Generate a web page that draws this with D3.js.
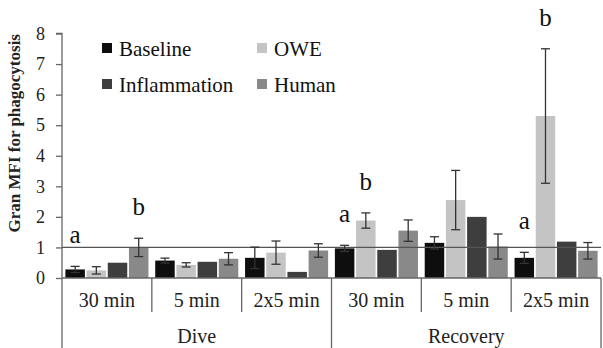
<!DOCTYPE html>
<html>
<head>
<meta charset="utf-8">
<script src="https://cdn.jsdelivr.net/npm/d3@7"></script>
<style>
  body { margin: 0; background: #fff; }
  svg text { font-family: "Liberation Serif", serif; }
</style>
</head>
<body>
<svg width="603" height="348"></svg>
<script>
// data
const groups = ["Dive", "Recovery"];
const times = ["30 min", "5 min", "2x5 min"];
const series = ["Baseline", "OWE", "Inflammation", "Human"];
const colors = ["#0e0e0e", "#c4c4c4", "#3e3e3e", "#898989"];

const baseline = [0.28, 0.57, 0.66, 0.97, 1.15, 0.66];
const owe = [0.25, 0.43, 0.83, 1.88, 2.55, 5.3];
const inflammation = [0.5, 0.53, 0.2, 0.92, 2.0, 1.19];
const human = [1.0, 0.63, 0.9, 1.55, 1.03, 0.89];

const baselineErr = [0.1, 0.08, 0.35, 0.1, 0.2, 0.18];
const oweErr = [0.12, 0.07, 0.38, 0.25, 0.97, 2.2];
const inflammationErr = [0, 0, 0, 0, 0, 0];
const humanErr = [0.3, 0.2, 0.22, 0.35, 0.41, 0.27];

const yTicks = [0, 1, 2, 3, 4, 5, 6, 7, 8];
const refValue = 1;

// significance letters: [category index, series index, letter]
const letters = [[0, 0, "a"], [0, 3, "b"], [3, 0, "a"], [3, 1, "b"], [5, 0, "a"], [5, 1, "b"]];

const values = [baseline, owe, inflammation, human];
const errors = [baselineErr, oweErr, inflammationErr, humanErr];

const serifFont = "'Liberation Serif', serif";

const cats = [];
groups.forEach(function (g) { times.forEach(function (t) { cats.push(g + "|" + t); }); });

const bars = [];
cats.forEach(function (c, i) {
  series.forEach(function (s, j) {
    bars.push({ cat: c, ci: i, s: s, si: j, v: values[j][i], e: errors[j][i] });
  });
});

const svg = d3.select("svg");
const plotLeft = 62, plotRight = 601, plotTop = 33.5, plotBottom = 278;

const x = d3.scaleBand().domain(cats).range([plotLeft, plotRight]).paddingInner(0).paddingOuter(0);
const xs = d3.scaleBand().domain(series).range([0, x.bandwidth()]).paddingInner(0.08).paddingOuter(0.16);
const y = d3.scaleLinear().domain([0, 8]).range([plotBottom, plotTop]);

// y axis
const yAxis = svg.append("g")
  .attr("transform", "translate(" + plotLeft + ",0)")
  .call(d3.axisLeft(y).tickValues(yTicks).tickSize(6).tickPadding(11).tickFormat(d3.format("d")));
yAxis.attr("font-family", null).attr("font-size", null);
yAxis.select(".domain").attr("stroke", "#666").attr("stroke-width", 1.3).attr("d", "M-6," + y(8) + "H0V" + y(0));
yAxis.selectAll(".tick line").attr("stroke", "#666").attr("stroke-width", 1.3);
yAxis.selectAll(".tick text").style("font-size", "18px").attr("fill", "#222").style("font-family", serifFont);

svg.append("text")
  .attr("transform", "translate(20," + ((plotTop + 233) / 2) + ") rotate(-90)")
  .attr("text-anchor", "middle")
  .style("font-family", serifFont)
  .style("font-size", "17px")
  .style("font-weight", "bold")
  .attr("fill", "#222")
  .text("Gran MFI for phagocytosis");

// bars
svg.append("g").selectAll("rect")
  .data(bars)
  .enter().append("rect")
  .attr("x", function (d) { return x(d.cat) + xs(d.s); })
  .attr("y", function (d) { return y(d.v); })
  .attr("width", xs.bandwidth())
  .attr("height", function (d) { return y(0) - y(d.v); })
  .attr("fill", function (d) { return colors[d.si]; });

// reference line at 1 and x axis line
svg.append("line").attr("x1", plotLeft).attr("x2", plotRight).attr("y1", y(refValue)).attr("y2", y(refValue))
  .attr("stroke", "#555").attr("stroke-width", 1.3);
svg.append("line").attr("x1", plotLeft).attr("x2", plotRight).attr("y1", y(0)).attr("y2", y(0))
  .attr("stroke", "#666").attr("stroke-width", 1.3);

// error bars
const eb = svg.append("g").attr("stroke", "#333").attr("stroke-width", 1.3);
bars.filter(function (d) { return d.e > 0; }).forEach(function (d) {
  const cx = x(d.cat) + xs(d.s) + xs.bandwidth() / 2;
  const y1 = y(d.v + d.e), y2 = y(d.v - d.e);
  eb.append("line").attr("x1", cx).attr("x2", cx).attr("y1", y1).attr("y2", y2);
  eb.append("line").attr("x1", cx - 4.5).attr("x2", cx + 4.5).attr("y1", y1).attr("y2", y1);
  eb.append("line").attr("x1", cx - 4.5).attr("x2", cx + 4.5).attr("y1", y2).attr("y2", y2);
});

// letters
svg.append("g").selectAll("text")
  .data(letters)
  .enter().append("text")
  .attr("x", function (d) { return x(cats[d[0]]) + xs(series[d[1]]) + xs.bandwidth() / 2; })
  .attr("y", function (d) {
    const v = values[d[1]][d[0]] + errors[d[1]][d[0]];
    return y(v) - 23;
  })
  .attr("text-anchor", "middle")
  .style("font-family", serifFont)
  .style("font-size", "25px")
  .attr("fill", "#111")
  .text(function (d) { return d[2]; });

// x axis: category separators and labels
const sep = svg.append("g").attr("stroke", "#666").attr("stroke-width", 1.3);
cats.forEach(function (c, i) {
  const xl = x(c);
  const full = (i % times.length === 0);
  sep.append("line").attr("x1", xl).attr("x2", xl).attr("y1", plotBottom).attr("y2", full ? 348 : 312);
});
sep.append("line").attr("x1", plotRight).attr("x2", plotRight).attr("y1", plotBottom).attr("y2", 348);

svg.append("g").selectAll("text")
  .data(cats)
  .enter().append("text")
  .attr("x", function (d) { return x(d) + x.bandwidth() / 2; })
  .attr("y", 307)
  .attr("text-anchor", "middle")
  .style("font-family", serifFont)
  .style("font-size", "20px")
  .attr("fill", "#222")
  .text(function (d) { return d.split("|")[1]; });

svg.append("g").selectAll("text")
  .data(groups)
  .enter().append("text")
  .attr("x", function (g) { return (x(g + "|" + times[0]) + x(g + "|" + times[times.length - 1]) + x.bandwidth()) / 2; })
  .attr("y", 343)
  .attr("text-anchor", "middle")
  .style("font-family", serifFont)
  .style("font-size", "20px")
  .attr("fill", "#222")
  .text(function (g) { return g; });

// legend
const legendX = [102, 257], legendY = [43, 79];
const lg = svg.append("g").selectAll("g")
  .data(series)
  .enter().append("g")
  .attr("transform", function (d, i) { return "translate(" + legendX[i % 2] + "," + legendY[Math.floor(i / 2)] + ")"; });
lg.append("rect").attr("width", 10).attr("height", 10).attr("fill", function (d, i) { return colors[i]; });
lg.append("text").attr("x", 17).attr("y", 13)
  .style("font-family", serifFont).style("font-size", "21px")
  .attr("fill", "#111").text(function (d) { return d; });
</script>
</body>
</html>
